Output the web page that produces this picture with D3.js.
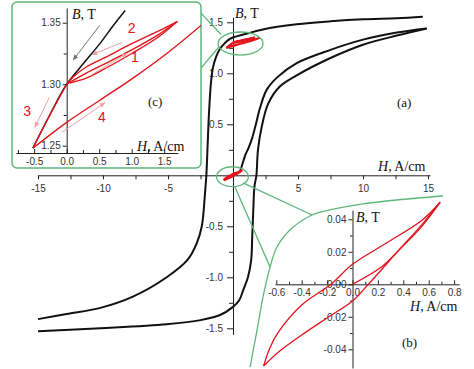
<!DOCTYPE html>
<html><head><meta charset="utf-8">
<script src="https://cdn.jsdelivr.net/npm/d3@7"></script>
<style>body{margin:0;background:#fff}svg{display:block}</style>
</head><body>
<svg id="chart" width="474" height="369"></svg>
<script>
// ---------- DATA ----------
// Main loop (H in A/cm, B in T)
const mainDescending = [[14.6,1.555],[12.6,1.54],[10,1.53],[7.5,1.51],[4.9,1.48],[2.3,1.43],[1.1,1.39],[-0.2,1.34],[-0.6,1.3],[-1.0,1.24],[-1.3,1.16],[-1.55,1.05],[-1.7,0.9],[-1.85,0.6],[-1.95,0.3],[-2.05,0.0],[-2.15,-0.17],[-2.4,-0.5],[-2.8,-0.67],[-3.5,-0.83],[-5.1,-1.0],[-7.7,-1.19],[-10.2,-1.3],[-12.8,-1.36],[-15,-1.41]];
const mainAscending = [[-15,-1.53],[-10.2,-1.5],[-5.1,-1.46],[-2.5,-1.42],[-1,-1.37],[0,-1.29],[0.5,-1.22],[0.8,-1.12],[1.15,-1.0],[1.4,-0.83],[1.48,-0.6],[1.56,-0.34],[1.65,-0.11],[1.8,0.0],[1.92,0.25],[2.2,0.47],[2.7,0.7],[3.6,0.87],[4.9,0.98],[7.5,1.15],[10,1.28],[12.6,1.37],[14.9,1.44]];
const mainInitial = [[0.55,0.04],[0.75,0.12],[0.95,0.2],[1.2,0.27],[1.46,0.36],[1.7,0.47],[2.1,0.67],[2.6,0.84],[3.4,0.96],[4.9,1.1],[7.5,1.23],[10,1.33],[12.6,1.4],[14.9,1.44]];
// Minor loop (b)
const loopUpper = [[0.69,0.0505],[0.55,0.0396],[0.28,0.026],[0,0.0123],[-0.17,0.0],[-0.4,-0.0127],[-0.58,-0.029],[-0.65,-0.039],[-0.70,-0.0503]];
const loopLower = [[-0.70,-0.0503],[-0.58,-0.0415],[-0.4,-0.0312],[-0.2,-0.0207],[0,-0.0103],[0.125,0.0],[0.365,0.021],[0.55,0.037],[0.69,0.0505]];
const loopInitial = [[0,0],[0.23,0.0108],[0.365,0.021],[0.55,0.036],[0.69,0.0505]];
// Minor cycles (c)
const cBlack = [[-0.52,1.248],[-0.25,1.276],[0,1.30],[0.26,1.317],[0.51,1.333],[0.72,1.348],[0.9,1.36]];
const cCycleUp = [[0,1.30],[0.1,1.306],[0.3,1.314],[0.6,1.322],[1.0,1.333],[1.4,1.343],[1.7,1.351]];
const cCycleMid = [[0,1.30],[0.3,1.309],[0.6,1.317],[1.0,1.328],[1.4,1.340],[1.7,1.351]];
const cCycleLow = [[0.05,1.301],[0.3,1.305],[0.6,1.313],[1.0,1.325],[1.4,1.338],[1.7,1.351]];
const cBranch3 = [[0,1.30],[-0.25,1.276],[-0.52,1.248]];
const cBranch4 = [[-0.52,1.248],[0,1.269],[0.51,1.287],[1.02,1.305],[1.54,1.325],[2.07,1.348]];
const cArrows = [
  {from:[0.51,1.348], to:[0.1,1.3197], gray:true},
  {from:[0.85,1.334], to:[0.39,1.324]},
  {from:[0.36,1.307], to:[0.93,1.325]},
  {from:[-0.27,1.289], to:[-0.49,1.265]},
  {from:[-0.07,1.261], to:[0.59,1.285]}
];
const cNumbers = [{t:"2",H:1.0,B:1.346},{t:"1",H:1.05,B:1.322},{t:"3",H:-0.61,B:1.278},{t:"4",H:0.54,B:1.273}];
// Tick values
const mainXTicks = [-15,-10,-5,5,10,15];
const mainXMinor = [-12.5,-7.5,-2.5,2.5,7.5,12.5];
const mainYTicks = [-1.5,-1.0,-0.5,0.5,1.0,1.5];
const mainYMinor = [-1.25,-0.75,-0.25,0.25,0.75,1.25];
const bXTicks = [-0.6,-0.4,-0.2,0.0,0.2,0.4,0.6,0.8];
const bXMinor = [-0.5,-0.3,-0.1,0.1,0.3,0.5,0.7];
const bYTicks = [-0.04,-0.02,0.00,0.02,0.04];
const bYMinor = [-0.03,-0.01,0.01,0.03];
const cXTicks = [-0.5,0.0,0.5,1.0,1.5];
const cXMinor = [-0.75,-0.25,0.25,0.75,1.25];
const cYTicks = [1.25,1.30,1.35];
const cYMinor = [1.275,1.325];
// Decorative zoom markers (main data coords)
const ellipseC = {H:0.58,B:1.292,rH:1.73,rB:0.113};
const ellipseB = {H:-0.04,B:-0.014,rH:1.22,rB:0.098};
const connectorsC = [[[-2.46,1.59],[-0.92,1.38]],[[-2.46,1.05],[-1.08,1.26]]];
const connectorsB = [[[0.77,-0.075],[6.08,-0.389]],[[0.15,-0.115],[2.85,-0.9]]];
const outlineB = [[16.15,-0.203],[12.6,-0.242],[10,-0.281],[7.46,-0.34],[6.08,-0.389],[4.38,-0.536],[3.38,-0.703],[2.85,-0.9],[2.31,-1.193],[1.85,-1.517],[1.31,-1.88]];

// ---------- STYLE ----------
const RED = "#e3141c", GREEN = "#5cb87a", PINK = "#f2a0a0";
const TICKFONT = "'Liberation Sans', Arial, sans-serif";
const SERIF = "'Liberation Serif', 'Times New Roman', serif";

const svg = d3.select("#chart");
const defs = svg.append("defs");
function marker(id, color){
  defs.append("marker").attr("id",id).attr("viewBox","0 0 10 10").attr("refX",9).attr("refY",5)
    .attr("markerWidth",6).attr("markerHeight",6).attr("orient","auto")
    .append("path").attr("d","M0,1 L10,5 L0,9 Z").attr("fill",color);
}
marker("arrPink", PINK); marker("arrGray", "#777");

// ---------- SCALES ----------
const xM = d3.scaleLinear().domain([-15,15.15]).range([38, 38+30.15*13]);
const yM = d3.scaleLinear().domain([-1.56,1.55]).range([175.3+1.56*102, 175.3-1.55*102]);
const xB = d3.scaleLinear().domain([-0.61,0.84]).range([352.5-0.61*127, 352.5+0.84*127]);
const yB = d3.scaleLinear().domain([-0.0515,0.0457]).range([284.3+0.0515*1625, 284.3-0.0457*1625]);
const xC = d3.scaleLinear().domain([-0.78,1.71]).range([66.7-0.78*65, 66.7+1.71*65]);
const yC = d3.scaleLinear().domain([1.2441,1.362]).range([153, 153-(1.362-1.2441)*1230]);

function lineGen(xs, ys){ return d3.line().x(d=>xs(d[0])).y(d=>ys(d[1])).curve(d3.curveCatmullRom.alpha(0.5)); }

function axis(g, gen, scale, majors, minors, fmt, size, minorSize, pad){
  const a = g.append("g").call(gen(scale).tickValues(majors).tickSize(size).tickSizeOuter(0).tickPadding(pad).tickFormat(fmt));
  a.attr("font-family", TICKFONT).attr("font-size", 10);
  a.selectAll("text").attr("fill","#333");
  a.selectAll("path,line").attr("stroke","#222");
  const m = g.append("g").call(gen(scale).tickValues(minors).tickSize(minorSize).tickSizeOuter(0).tickFormat(""));
  m.select(".domain").remove();
  m.selectAll("line").attr("stroke","#222");
  return a;
}
function title(g, x, y, ital, rest, size){
  const t = g.append("text").attr("x",x).attr("y",y).attr("font-family",SERIF).attr("font-size",size).attr("fill","#111");
  t.append("tspan").attr("font-style","italic").text(ital);
  t.append("tspan").text(rest);
}

// ---------- MAIN PLOT ----------
const main = svg.append("g");
const gx = main.append("g").attr("transform",`translate(0,${yM(0)})`);
axis(gx, d3.axisBottom, xM, mainXTicks, mainXMinor, d=>String(d), 4, 4, 6);
const gy = main.append("g").attr("transform",`translate(${xM(0)},0)`);
axis(gy, d3.axisLeft, yM, mainYTicks, mainYMinor, d=>d.toFixed(1), 6, 4, 4);
title(main, 235, 18, "B", ", T", 14);
title(main, 378, 171, "H", ", A/cm", 14);
main.append("text").attr("x",397).attr("y",107).attr("font-family",SERIF).attr("font-size",13).attr("fill","#111").text("(a)");

const lm = lineGen(xM, yM);
[mainDescending, mainAscending, mainInitial].forEach(d=>{
  main.append("path").attr("d",lm(d)).attr("fill","none").attr("stroke","#111").attr("stroke-width",2);
});
[cCycleUp, cCycleMid, cCycleLow, cBranch3, cBranch4].forEach(d=>{
  main.append("path").attr("d",lm(d)).attr("fill","none").attr("stroke",RED).attr("stroke-width",2.2);
});
[loopUpper, loopLower, loopInitial].forEach(d=>{
  main.append("path").attr("d",lm(d)).attr("fill","none").attr("stroke",RED).attr("stroke-width",2.2);
});

// green markers
[ellipseC, ellipseB].forEach(e=>{
  main.append("ellipse").attr("cx",xM(e.H)).attr("cy",yM(e.B))
    .attr("rx",xM(e.H+e.rH)-xM(e.H)).attr("ry",yM(e.B)-yM(e.B+e.rB))
    .attr("fill","none").attr("stroke",GREEN).attr("stroke-width",1.3);
});
connectorsC.concat(connectorsB).forEach(c=>{
  main.append("line").attr("x1",xM(c[0][0])).attr("y1",yM(c[0][1])).attr("x2",xM(c[1][0])).attr("y2",yM(c[1][1]))
    .attr("stroke",GREEN).attr("stroke-width",1.3);
});
main.append("path").attr("d",lineGen(xM,yM)(outlineB)).attr("fill","none").attr("stroke",GREEN).attr("stroke-width",1.3);

// ---------- INSET (b) ----------
const ib = svg.append("g");
const bx = ib.append("g").attr("transform",`translate(0,${yB(0)})`);
const bxa = axis(bx, d3.axisBottom, xB, bXTicks, bXMinor, d=>d.toFixed(1), -4, -2.5, 2);
bxa.selectAll("text").attr("dy","0.71em").attr("y",5);
const by = ib.append("g").attr("transform",`translate(${xB(0)},0)`);
axis(by, d3.axisLeft, yB, bYTicks, bYMinor, d=>d.toFixed(2), 4, 2.5, 2);
title(ib, 356, 222, "B", ", T", 14);
title(ib, 410, 311, "H", ", A/cm", 14);
ib.append("text").attr("x",402).attr("y",347).attr("font-family",SERIF).attr("font-size",13).attr("fill","#111").text("(b)");
const lb = lineGen(xB, yB);
[loopUpper, loopLower, loopInitial].forEach(d=>{
  ib.append("path").attr("d",lb(d)).attr("fill","none").attr("stroke",RED).attr("stroke-width",1.3);
});

// ---------- INSET (c) ----------
const ic = svg.append("g");
ic.append("rect").attr("x",12).attr("y",2).attr("width",189).attr("height",166).attr("rx",5)
  .attr("fill","#fff").attr("stroke",GREEN).attr("stroke-width",1.5);
defs.append("clipPath").attr("id","clipC").append("rect").attr("x",12).attr("y",2).attr("width",189).attr("height",166);
const cx = ic.append("g").attr("transform",`translate(0,${yC.range()[0]})`);
const cxa = axis(cx, d3.axisBottom, xC, cXTicks, cXMinor, d=>d.toFixed(1), -4, -3, 2);
cxa.selectAll("text").attr("y",5);
const cy = ic.append("g").attr("transform",`translate(${xC(0)},0)`);
axis(cy, d3.axisLeft, yC, cYTicks, cYMinor, d=>d.toFixed(2), 4, 3, 2);
title(ic, 72, 19, "B", ", T", 14);
title(ic, 137, 151, "H", ", A/cm", 14);
ic.append("text").attr("x",148).attr("y",106).attr("font-family",SERIF).attr("font-size",13).attr("fill","#111").text("(c)");
const lc = lineGen(xC, yC);
const cc = ic.append("g").attr("clip-path","url(#clipC)");
cc.append("path").attr("d",lc(cBlack)).attr("fill","none").attr("stroke","#111").attr("stroke-width",1.5);
[cCycleUp, cCycleMid, cCycleLow, cBranch3, cBranch4].forEach(d=>{
  cc.append("path").attr("d",lc(d)).attr("fill","none").attr("stroke",RED).attr("stroke-width",1.4);
});
cArrows.forEach(a=>{
  ic.append("line").attr("x1",xC(a.from[0])).attr("y1",yC(a.from[1])).attr("x2",xC(a.to[0])).attr("y2",yC(a.to[1]))
    .attr("stroke", a.gray ? "#777" : PINK).attr("stroke-width",1)
    .attr("marker-end", a.gray ? "url(#arrGray)" : "url(#arrPink)");
});
cNumbers.forEach(n=>{
  ic.append("text").attr("x",xC(n.H)).attr("y",yC(n.B)).attr("text-anchor","middle").attr("dominant-baseline","central")
    .attr("font-family",TICKFONT).attr("font-size",14).attr("fill",RED).text(n.t);
});
</script>
</body></html>
